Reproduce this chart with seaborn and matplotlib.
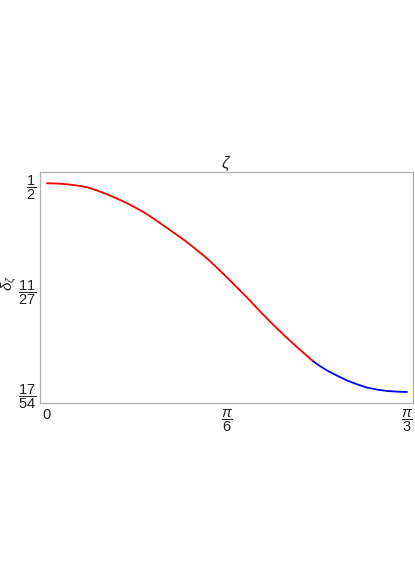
import numpy as np
import pandas as pd
import matplotlib
matplotlib.use("Agg")
import matplotlib.pyplot as plt
import seaborn as sns

# readings (x in radians)
x_red = [0.0, 0.0291, 0.0582, 0.0873, 0.1164, 0.1455, 0.1745, 0.2036, 0.2327,
         0.2618, 0.2909, 0.3200, 0.3491, 0.3781, 0.4072, 0.4363, 0.4654, 0.4945,
         0.5236, 0.5527, 0.5818, 0.6109, 0.6400, 0.6690, 0.6981, 0.7272, 0.7563,
         0.7746]
y_red = [0.5000, 0.4998, 0.4991, 0.4980, 0.4965, 0.4936, 0.4902, 0.4864, 0.4823,
         0.4776, 0.4725, 0.4665, 0.4603, 0.4541, 0.4477, 0.4406, 0.4333, 0.4250,
         0.4164, 0.4075, 0.3986, 0.3892, 0.3799, 0.3712, 0.3627, 0.3546, 0.3468,
         0.3419]
x_blue = [0.7746, 0.7946, 0.8145, 0.8436, 0.8727, 0.9018, 0.9308, 0.9599, 0.9890,
          1.0181, np.pi / 3]
y_blue = [0.3419, 0.3377, 0.3339, 0.3293, 0.3250, 0.3216, 0.3187, 0.3169, 0.3157,
          0.3151, 0.3148]

xticks = [0, np.pi / 6, np.pi / 3]
xticklabels = [r"$\mathrm{0}$", r"$\dfrac{\pi}{\mathrm{6}}$", r"$\dfrac{\pi}{\mathrm{3}}$"]
yticks = [17 / 54, 11 / 27, 1 / 2]
yticklabels = [r"$\dfrac{17}{54}$", r"$\dfrac{11}{27}$", r"$\dfrac{1}{2}$"]

df = pd.DataFrame({
    "x": x_red + x_blue,
    "y": y_red + y_blue,
    "part": ["red"] * len(x_red) + ["blue"] * len(x_blue),
})

sns.set_style("white")
plt.rcParams["mathtext.fontset"] = "custom"
plt.rcParams["mathtext.rm"] = "Liberation Sans"
plt.rcParams["mathtext.it"] = "Liberation Sans:italic"
plt.rcParams["mathtext.bf"] = "Liberation Sans:bold"

fig = plt.figure(figsize=(4.15, 5.88), dpi=100)
ax = fig.add_axes([0.0964, 0.3146, 0.8988, 0.3929])
sns.lineplot(data=df, x="x", y="y", hue="part", palette={"red": "#ff0000", "blue": "#0000ff"},
             sort=False, legend=False, linewidth=1.3, ax=ax)

ax.set_xlim(-0.0204, 1.0647)
ax.set_ylim(0.3050, 0.5100)
ax.set_xticks(xticks)
ax.set_xticklabels(xticklabels, fontsize=10.5)
ax.set_yticks(yticks)
ax.set_yticklabels(yticklabels, fontsize=10.5)
ax.tick_params(direction="in", length=3, width=0.8, color="#b0b0b0", pad=3,
               labelcolor="#222222")
for s in ax.spines.values():
    s.set_color("#b0b0b0")
    s.set_linewidth(0.9)

ax.set_xlabel("")
ax.set_ylabel(r"$\delta_\zeta$", fontsize=11)
ax.yaxis.set_label_coords(-0.057, 0.52)
ax.set_title(r"$\zeta$", fontsize=12, pad=3)

fig.savefig("out.png", dpi=100)
